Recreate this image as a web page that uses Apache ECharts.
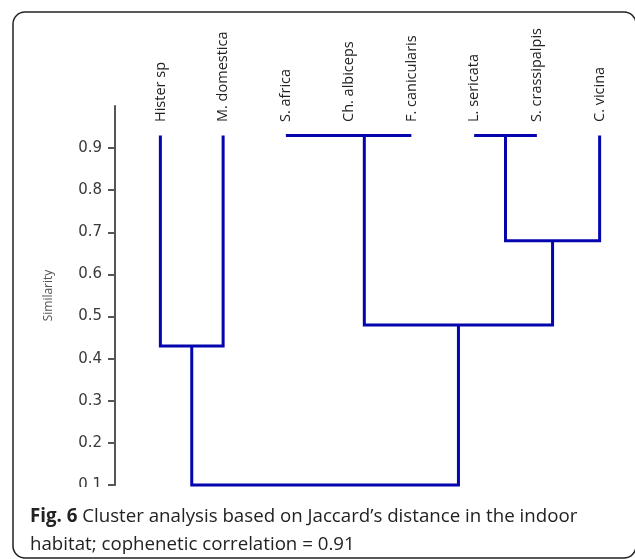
<!DOCTYPE html>
<html>
<head>
<meta charset="utf-8">
<script src="https://cdn.jsdelivr.net/npm/echarts@6/dist/echarts.min.js"></script>
<style>
  html, body { margin: 0; padding: 0; background: #fff; }
  #chart { width: 635px; height: 559px; }
</style>
</head>
<body>
<div id="chart"></div>
<script>
// leaves, left to right
var leaves = ['Hister sp', 'M. domestica', 'S. africa', 'Ch. albiceps', 'F. canicularis', 'L. sericata', 'S. crassipalpis', 'C. vicina'];
var leafTop = 0.93;
// merges: [child a, child b, similarity]; new cluster ids continue after the leaves
var mergeA = [2, 8, 5, 0, 10, 9, 11];
var mergeB = [3, 4, 6, 1, 7, 12, 13];
var mergeH = [0.93, 0.93, 0.93, 0.43, 0.68, 0.48, 0.10];
var yTicks = [0.1, 0.2, 0.3, 0.4, 0.5, 0.6, 0.7, 0.8, 0.9];

var lineColor = '#0505b0';

/* build the U-shaped links */
var nodeX = [], nodeH = [];
leaves.forEach(function (n, i) { nodeX.push(i); nodeH.push(leafTop); });
var links = [];
for (var k = 0; k < mergeA.length; k++) {
  var a = mergeA[k], b = mergeB[k], h = mergeH[k];
  links.push({
    type: 'line',
    xAxisIndex: 1,
    symbol: 'none',
    clip: false,
    silent: true,
    lineStyle: { color: lineColor, width: 3, join: 'miter' },
    data: [[nodeX[a], nodeH[a]], [nodeX[a], h], [nodeX[b], h], [nodeX[b], nodeH[b]]]
  });
  nodeX.push((nodeX[a] + nodeX[b]) / 2);
  nodeH.push(h);
}

var chart = echarts.init(document.getElementById('chart'));
chart.setOption({
  animation: false,
  backgroundColor: '#fff',
  grid: { left: 129, right: 4, top: 106, bottom: 74 },
  xAxis: [{
    type: 'category',
    position: 'top',
    data: leaves,
    axisLine: { show: false },
    axisTick: { show: false },
    splitLine: { show: false },
    axisLabel: {
      rotate: -90,
      margin: -16,
      fontFamily: 'Open Sans',
      fontSize: 14.5,
      color: '#222'
    }
  }, {
    type: 'value',
    show: false,
    min: -0.5,
    max: 7.5
  }],
  yAxis: {
    type: 'value',
    min: 0.1,
    max: 1.0,
    interval: 0.1,
    offset: 14,
    name: 'Similarity',
    nameLocation: 'middle',
    nameGap: 60,
    nameTextStyle: { fontFamily: 'Open Sans', fontSize: 12, color: '#555' },
    axisLine: { show: true, onZero: false, lineStyle: { color: '#555', width: 2 } },
    axisTick: { show: true, length: 7, customValues: yTicks, lineStyle: { color: '#555', width: 2 } },
    axisLabel: {
      customValues: yTicks,
      margin: 13,
      fontFamily: 'DejaVu Sans',
      fontSize: 15,
      color: '#3a3a3a',
      formatter: function (v) { return v.toFixed(1); }
    },
    splitLine: { show: false }
  },
  graphic: [{
    // the picture is cut just below the 0.1 tick in the original figure
    type: 'rect',
    z: 100,
    shape: { x: 60, y: 487, width: 48, height: 18 },
    style: { fill: '#fff' }
  }, {
    type: 'rect',
    z: 101,
    shape: { x: 13, y: 12, width: 623, height: 546, r: 12 },
    style: { fill: 'none', stroke: '#222', lineWidth: 1.5 }
  }, {
    type: 'text',
    z: 101,
    x: 30,
    y: 517,
    style: {
      text: '{b|Fig. 6} Cluster analysis based on Jaccard’s distance in the indoor',
      fontFamily: 'Open Sans',
      fontSize: 18.7,
      fill: '#222',
      verticalAlign: 'middle',
      rich: { b: { fontWeight: 'bold', fontFamily: 'Open Sans', fontSize: 18.7, fill: '#222' } }
    }
  }, {
    type: 'text',
    z: 101,
    x: 30,
    y: 545,
    style: {
      text: 'habitat; cophenetic correlation = 0.91',
      fontFamily: 'Open Sans',
      fontSize: 18.7,
      fill: '#222',
      verticalAlign: 'middle'
    }
  }],
  series: links
});
</script>
</body>
</html>
